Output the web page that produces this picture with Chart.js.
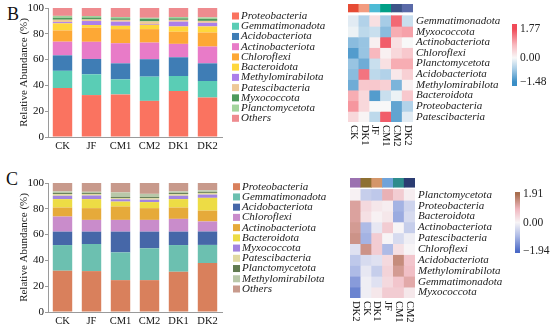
<!DOCTYPE html>
<html>
<head>
<meta charset="utf-8">
<script src="https://cdn.jsdelivr.net/npm/chart.js@4.4.0/dist/chart.umd.min.js"></script>
<style>
  body { margin: 0; background: #fff; width: 550px; height: 327px; position: relative; overflow: hidden; font-family: "Liberation Serif", serif; }
  canvas { position: absolute; }
  .tag { position: absolute; font-size: 18px; color: #111; line-height: 1; }
</style>
</head>
<body>
<div class="tag" style="left:7px;top:5px">B</div>
<div class="tag" style="left:6px;top:170px">C</div>
<canvas id="barB" width="340" height="162" style="left:0;top:0"></canvas>
<canvas id="heatB" width="210" height="162" style="left:340px;top:0"></canvas>
<canvas id="barC" width="340" height="172" style="left:0;top:165px"></canvas>
<canvas id="heatC" width="210" height="162" style="left:340px;top:165px"></canvas>
<script>
const SERIF = '"Liberation Serif", "DejaVu Serif", serif'

// ---- panel B : stacked bars ----
const groups = ['CK', 'JF', 'CM1', 'CM2', 'DK1', 'DK2']
const taxaB = ['Proteobacteria', 'Gemmatimonadota', 'Acidobacteriota', 'Actinobacteriota', 'Chloroflexi',
  'Bacteroidota', 'Methylomirabilota', 'Patescibacteria', 'Myxococcota', 'Planctomycetota', 'Others']
const proteoB = [38, 32.5, 33, 28, 35.6, 30.6]
const gemmaB = [13.3, 16.1, 11.7, 18.8, 11.7, 12.8]
const acidoB = [12, 11.9, 12.4, 13.5, 14.5, 13.7]
const actinoB = [10.6, 13.3, 15.6, 12.9, 10.4, 13]
const chloroB = [8.7, 10.9, 10.9, 10.4, 9.4, 10.9]
const bacteroB = [5.5, 2.1, 2.6, 3.4, 4.1, 4.7]
const methyloB = [1.0, 3.1, 3.2, 0.6, 3.7, 2.8]
const patesciB = [1.8, 1.2, 1.4, 2.0, 1.4, 1.5]
const myxoB = [1.5, 1.5, 1.2, 2.0, 1.2, 1.5]
const planctoB = [1.5, 1.2, 1.0, 0.8, 1.0, 1.2]
const othersB = [6.1, 6.2, 7.0, 7.6, 7.0, 7.3]
const colorsB = ['#FA7360', '#5ACDB5', '#3F7DB5', '#E87BC8', '#FDA835', '#FED73C',
  '#AC7FEA', '#EEC997', '#4E9A5C', '#A3D49D', '#EE8B8F']

// ---- panel C : stacked bars ----
const taxaC = ['Proteobacteria', 'Gemmatimonadota', 'Acidobacteriota', 'Chloroflexi', 'Actinobacteriota',
  'Bacteroidota', 'Myxococcota', 'Patescibacteria', 'Planctomycetota', 'Methylomirabilota', 'Others']
const proteoC = [32, 31.7, 24.7, 24.7, 31.2, 38]
const gemmaC = [19.9, 21, 21.5, 24.7, 20.7, 14]
const acidoC = [10.4, 9.6, 16.1, 12.9, 10.4, 10.4]
const chloroC = [11.7, 9.1, 9.1, 9.1, 9.9, 7.8]
const actinoC = [7, 9.1, 10.4, 9.1, 8.8, 8.4]
const bacteroC = [6.5, 7, 3.8, 4.7, 6.5, 9.9]
const myxoC = [2.6, 2.8, 1.8, 1.8, 2.6, 2.5]
const patesciC = [1.3, 1.2, 1.0, 1.3, 1.3, 1.3]
const planctoC = [0.8, 0.7, 0.8, 0.8, 0.8, 0.7]
const methyloC = [1.3, 1.0, 3.5, 2.5, 1.3, 1.3]
const othersC = [6.5, 6.8, 7.3, 8.4, 6.5, 5.7]
const colorsC = ['#D9805C', '#6CC0B0', '#4667A8', '#C98CCB', '#E6AA3A', '#EDDC45',
  '#A283E0', '#E0D9A2', '#617A50', '#B9C8A9', '#C89A8C']

// ---- heatmap B ----
const hmColsB = ['CK', 'DK1', 'JF', 'CM1', 'CM2', 'DK2']
const hmRowsB = ['Gemmatimonadota', 'Myxococcota', 'Actinobacteriota', 'Chloroflexi', 'Planctomycetota',
  'Acidobacteriota', 'Methylomirabilota', 'Bacteroidota', 'Proteobacteria', 'Patescibacteria']
const hmValsB = [
  [-0.2, -0.6, 0.3, -0.7, 1.5, -0.4],
  [-0.1, -0.5, -0.4, -0.9, 0.9, 1.0],
  [-0.9, -0.8, 0.1, 1.6, 0.3, 0.0],
  [-1.3, -0.8, 0.8, 0.1, 0.4, 0.6],
  [-0.8, -1.1, -0.4, 0.3, 0.9, 0.9],
  [-0.9, 1.4, -0.5, -0.6, 0.2, 0.5],
  [-1.1, 0.6, 0.6, 0.5, -1.0, 0.1],
  [0.9, 0.4, -1.3, -0.4, -0.1, 0.6],
  [1.1, 0.4, 0.0, 0.0, -1.2, -0.6],
  [0.4, 0.05, -0.5, 1.6, -1.2, -0.2]
]
const annB = ['#E64B35', '#F39B7F', '#4DBBD5', '#00A087', '#3C5488', '#5A6AA8']
const rampB = [[-1.48, '#3A8EC6'], [-0.7, '#A6CCE6'], [0, '#F8F8F8'], [0.8, '#F8B8BE'], [1.77, '#F04A58']]

// ---- heatmap C ----
const hmColsC = ['DK2', 'CK', 'DK1', 'JF', 'CM1', 'CM2']
const hmRowsC = ['Planctomycetota', 'Proteobacteria', 'Bacteroidota', 'Actinobacteriota', 'Patescibacteria',
  'Chloroflexi', 'Acidobacteriota', 'Methylomirabilota', 'Gemmatimonadota', 'Myxococcota']
const hmValsC = [
  [0.05, -0.6, -0.7, 1.0, 0.6, 0.1],
  [1.2, 0.4, 0.2, 0.1, -1.0, -0.5],
  [1.2, 0.3, 0.05, 0.2, -1.1, -0.4],
  [1.3, -0.9, -0.2, 0.6, 0.0, -0.6],
  [1.4, -1.0, 0.6, 0.0, -0.4, -0.1],
  [-0.3, 1.4, 0.6, -0.9, 0.3, 0.0],
  [-0.7, -0.4, -0.3, 0.4, 1.5, 0.7],
  [-0.9, -0.2, -0.6, 0.5, 1.3, 0.8],
  [-1.3, -0.1, -0.3, 0.4, 0.7, 1.1],
  [-1.6, -0.1, 0.2, 0.6, 0.6, 0.2]
]
const annC = ['#9B72B0', '#8E7032', '#D4966A', '#6FA3DA', '#2E8C8C', '#2B3C72']
const rampC = [[-1.94, '#4B69C6'], [-0.9, '#AEBBE6'], [0, '#F7F4F6'], [0.9, '#F0B8C0'], [1.91, '#A86E4E']]

function hexToRgb(h) {
  return [1, 3, 5].map(i => parseInt(h.slice(i, i + 2), 16))
}

function rampColor(ramp, v) {
  if (v <= ramp[0][0]) return ramp[0][1]
  for (let i = 1; i < ramp.length; i++) {
    if (v <= ramp[i][0]) {
      const t = (v - ramp[i - 1][0]) / (ramp[i][0] - ramp[i - 1][0])
      const a = hexToRgb(ramp[i - 1][1]), b = hexToRgb(ramp[i][1])
      const c = a.map((x, k) => Math.round(x + (b[k] - x) * t))
      return `rgb(${c[0]},${c[1]},${c[2]})`
    }
  }
  return ramp[ramp.length - 1][1]
}

// legend drawn from the datasets, placed next to the plot
const sideLegend = {
  id: 'sideLegend',
  afterDraw(chart, args, opts) {
    const ctx = chart.ctx
    ctx.save()
    ctx.font = 'italic 11px ' + SERIF
    ctx.textBaseline = 'middle'
    ctx.textAlign = 'left'
    chart.data.datasets.forEach((d, i) => {
      const y = opts.y + i * opts.step
      ctx.fillStyle = d.backgroundColor
      ctx.fillRect(opts.x, y - 3.5, 7, 7)
      ctx.fillStyle = '#222'
      ctx.fillText(d.label, opts.x + 9, y)
    })
    ctx.restore()
  }
}

function stackedBar(id, taxa, series, colors, topPad, legendPos) {
  const axisColor = '#9a9a9a'
  new Chart(document.getElementById(id), {
    type: 'bar',
    data: {
      labels: groups,
      datasets: taxa.map((t, i) => ({
        label: t,
        data: series[i],
        backgroundColor: colors[i],
        borderWidth: 0,
        barPercentage: 0.67,
        categoryPercentage: 1
      }))
    },
    options: {
      responsive: false,
      animation: false,
      layout: { padding: { top: topPad, right: 118, left: 0, bottom: 0 } },
      scales: {
        x: {
          stacked: true,
          grid: { display: false, drawTicks: false, tickLength: 0 },
          border: { color: axisColor },
          ticks: { color: '#111', font: { family: SERIF, size: 10.5 }, padding: 3 },
          afterFit(s) { s.height = 25 }
        },
        y: {
          stacked: true,
          min: 0,
          max: 100,
          ticks: { stepSize: 10, color: '#111', font: { family: SERIF, size: 11 }, padding: 1 },
          grid: { drawOnChartArea: false, tickLength: 3, color: axisColor },
          border: { color: axisColor },
          title: { display: true, text: 'Relative Abundance (%)', color: '#222', font: { family: SERIF, size: 11 }, padding: { top: 18, bottom: 0 } },
          afterFit(s) { s.width = 48 }
        }
      },
      plugins: {
        tooltip: { enabled: false },
        legend: { display: false },
        sideLegend: legendPos
      }
    },
    plugins: [sideLegend]
  })
}

stackedBar('barB', taxaB,
  [proteoB, gemmaB, acidoB, actinoB, chloroB, bacteroB, methyloB, patesciB, myxoB, planctoB, othersB], colorsB, 8,
  { x: 232, y: 16, step: 10.23 })
stackedBar('barC', taxaC,
  [proteoC, gemmaC, acidoC, chloroC, actinoC, bacteroC, myxoC, patesciC, planctoC, methyloC, othersC], colorsC, 18,
  { x: 233, y: 21.7, step: 10.23 })

function heatmap(id, cols, rows, vals, ann, ramp, cfg) {
  // row names on the right and column names below, read through the scales
  const cellLabels = {
    id: 'cellLabels',
    afterDraw(chart) {
      const ctx = chart.ctx
      const xs = chart.scales.x
      const ys = chart.scales.y
      const area = chart.chartArea
      ctx.save()
      ctx.fillStyle = '#222'
      ctx.textAlign = 'left'
      ctx.textBaseline = 'middle'
      ctx.font = 'italic 11px ' + SERIF
      rows.forEach((r, i) => ctx.fillText(r, area.right + 3, ys.getPixelForValue(i + 0.5)))
      ctx.font = '10.5px ' + SERIF
      ctx.fillStyle = '#111'
      cols.forEach((c, j) => {
        ctx.save()
        ctx.translate(xs.getPixelForValue(j), area.bottom + 3)
        ctx.rotate(Math.PI / 2)
        ctx.fillText(c, 0, 0)
        ctx.restore()
      })
      ctx.restore()
    }
  }
  const colorBar = {
    id: 'colorBar',
    afterDraw(chart) {
      const ctx = chart.ctx
      const b = cfg.bar
      const span = b.vTop - b.vBot
      const g = ctx.createLinearGradient(0, b.y, 0, b.y + b.h)
      ramp.forEach(([v, c]) => g.addColorStop((b.vTop - v) / span, c))
      ctx.save()
      ctx.fillStyle = g
      ctx.fillRect(b.x, b.y, b.w, b.h)
      ctx.font = '11.5px ' + SERIF
      ctx.fillStyle = '#222'
      ctx.textBaseline = 'middle'
      ctx.textAlign = 'left'
      cfg.ticks.forEach(([v, t]) => {
        ctx.fillText(t, b.x + b.w + 3, b.y + (b.vTop - v) / span * b.h)
      })
      ctx.restore()
    }
  }
  const datasets = rows.map((r, i) => ({
    label: r,
    data: cols.map(() => [i, i + 1]),
    backgroundColor: vals[i].map(v => rampColor(ramp, v))
  }))
  datasets.push({
    label: 'group',
    data: cols.map(() => [cfg.annFrom, cfg.annTo]),
    backgroundColor: ann
  })
  new Chart(document.getElementById(id), {
    type: 'bar',
    data: { labels: cols, datasets: datasets.map(d => Object.assign(d, { grouped: false, barPercentage: 1, categoryPercentage: 1, borderWidth: 0 })) },
    options: {
      responsive: false,
      animation: false,
      layout: { padding: cfg.pad },
      scales: {
        x: { display: false },
        y: { display: false, reverse: true, min: cfg.annFrom, max: rows.length }
      },
      plugins: { legend: { display: false }, tooltip: { enabled: false } }
    },
    plugins: [cellLabels, colorBar]
  })
}

heatmap('heatB', hmColsB, hmRowsB, hmValsB, annB, rampB, {
  annFrom: -1.1, annTo: -0.35,
  pad: { left: 8, right: 137, top: 4, bottom: 40 },
  bar: { x: 172, y: 24, w: 5, h: 62, vTop: 2.08, vBot: -1.73 },
  ticks: [[1.77, '1.77'], [0, '0.00'], [-1.48, '\u22121.48']]
})
heatmap('heatC', hmColsC, hmRowsC, hmValsC, annC, rampC, {
  annFrom: -1.05, annTo: -0.2,
  pad: { left: 10, right: 135, top: 13, bottom: 29 },
  bar: { x: 175, y: 27, w: 5, h: 61, vTop: 2.05, vBot: -2.05 },
  ticks: [[1.91, '1.91'], [0, '0.00'], [-1.94, '\u22121.94']]
})
</script>
</body>
</html>
